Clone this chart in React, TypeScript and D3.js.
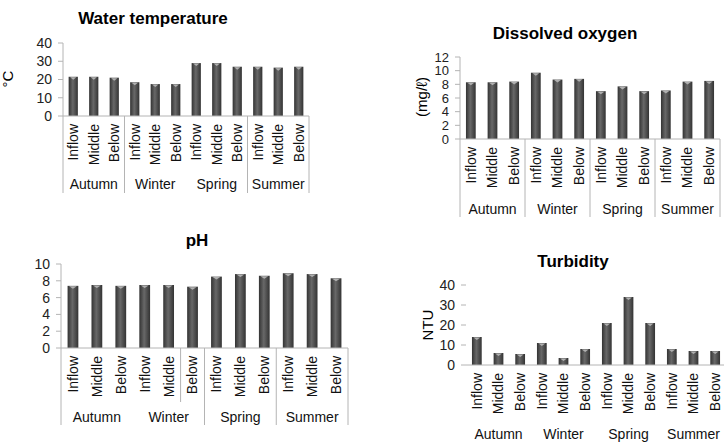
import React, { useEffect, useRef } from 'react';
import * as d3 from 'd3';

// Sampling points and seasons along the x axis
const sites = ['Inflow', 'Middle', 'Below'];
const seasons = ['Autumn', 'Winter', 'Spring', 'Summer'];

// Measured values, ordered season by season (Inflow, Middle, Below)
const waterTemp = [21.5, 21.5, 21, 18.5, 17.5, 17.5, 29, 29, 27, 27, 26.5, 27];
const dissolvedOxygen = [8.3, 8.3, 8.4, 9.7, 8.7, 8.8, 7.0, 7.7, 7.0, 7.1, 8.4, 8.5];
const phValues = [7.4, 7.5, 7.4, 7.5, 7.5, 7.3, 8.5, 8.8, 8.6, 8.9, 8.8, 8.3];
const turbidity = [14, 6, 5.5, 11, 3.5, 8, 21, 34, 21, 8, 7, 7];

// Y tick labels per panel
const tempTicks = [0, 10, 20, 30, 40];
const oxygenTicks = [0, 2, 4, 6, 8, 10, 12];
const phTicks = [0, 2, 4, 6, 8, 10];
const turbidityTicks = [0, 10, 20, 30, 40];

const AXIS = '#b4b4b4';
const FONT = '"Liberation Sans", Arial, sans-serif';

const categories = seasons.flatMap((s) => sites.map((p) => `${s}-${p}`));

const panels = [
  {
    id: 'temp', title: 'Water temperature', titleX: 153, titleY: 24,
    unit: '°C', unitX: 8, unitY: 79,
    values: waterTemp, ticks: tempTicks, tickSize: 14,
    left: 63, right: 309, top: 43, base: 116, bottom: 193, groupY: 189,
    yAxis: true, separators: [[0, 193], [3, 193], [9, 193], [12, 193]],
  },
  {
    id: 'oxygen', title: 'Dissolved oxygen', titleX: 565, titleY: 39,
    unit: '(mg/ℓ)', unitX: 422, unitY: 97,
    values: dissolvedOxygen, ticks: oxygenTicks, tickSize: 13,
    left: 460, right: 720, top: 57, base: 139, bottom: 217, groupY: 214,
    yAxis: true, separators: [[0, 217], [3, 217], [6, 217], [9, 217], [12, 217]],
  },
  {
    id: 'ph', title: 'pH', titleX: 197, titleY: 246,
    unit: '', unitX: 0, unitY: 0,
    values: phValues, ticks: phTicks, tickSize: 14,
    left: 61, right: 348, top: 264, base: 348, bottom: 425, groupY: 422,
    yAxis: true, separators: [[0, 425], [5, 402], [6, 425], [9, 425], [12, 425]],
  },
  {
    id: 'turb', title: 'Turbidity', titleX: 573, titleY: 267,
    unit: 'NTU', unitX: 428, unitY: 325,
    values: turbidity, ticks: turbidityTicks, tickSize: 14,
    left: 466, right: 726, top: 285, base: 365, bottom: 365, groupY: 439,
    yAxis: false, separators: [],
  },
];

const App = () => {
  const ref = useRef<SVGSVGElement>(null);

  useEffect(() => {
    const svg = d3.select(ref.current);
    svg.selectAll('*').remove();

    // Cylinder-like shading for the bars
    const grad = svg.append('defs').append('linearGradient')
      .attr('id', 'barFill').attr('x1', '0%').attr('x2', '100%').attr('y1', '0%').attr('y2', '0%');
    grad.append('stop').attr('offset', '0%').attr('stop-color', '#333');
    grad.append('stop').attr('offset', '45%').attr('stop-color', '#686868');
    grad.append('stop').attr('offset', '100%').attr('stop-color', '#333');

    panels.forEach((p) => {
      const g = svg.append('g').attr('font-family', FONT);

      const x = d3.scaleBand<string>()
        .domain(categories)
        .range([p.left, p.right])
        .paddingInner(0.55)
        .paddingOuter(0.275);
      const edge = (i: number) => p.left + (p.right - p.left) * (i / categories.length);

      const y = d3.scaleLinear()
        .domain([0, d3.max(p.ticks) as number])
        .range([p.base, p.top]);

      // Title
      g.append('text')
        .attr('x', p.titleX).attr('y', p.titleY)
        .attr('text-anchor', 'middle')
        .attr('font-size', 17).attr('font-weight', 'bold')
        .text(p.title);

      // Unit label
      if (p.unit) {
        g.append('text')
          .attr('transform', `translate(${p.unitX},${p.unitY}) rotate(-90)`)
          .attr('text-anchor', 'middle').attr('dy', '0.35em')
          .attr('font-size', 15)
          .text(p.unit);
      }

      // Y axis: tick marks and labels
      if (p.yAxis) {
        g.append('line')
          .attr('x1', p.left).attr('x2', p.left)
          .attr('y1', p.top).attr('y2', p.base)
          .attr('stroke', AXIS);
      }
      g.selectAll('.ytick')
        .data(p.ticks)
        .join('line')
        .attr('x1', p.left - 5).attr('x2', p.left)
        .attr('y1', (d) => y(d)).attr('y2', (d) => y(d))
        .attr('stroke', AXIS);
      g.selectAll('.ylab')
        .data(p.ticks)
        .join('text')
        .attr('x', p.left - 11).attr('y', (d) => y(d))
        .attr('dy', '0.35em').attr('text-anchor', 'end')
        .attr('font-size', p.tickSize).attr('fill', '#222')
        .text((d) => d);

      // Bars with a light cap on top
      const bars = g.selectAll('.bar')
        .data(p.values)
        .join('g');
      bars.append('rect')
        .attr('x', (_, i) => x(categories[i]) as number)
        .attr('y', (d) => y(d))
        .attr('width', x.bandwidth())
        .attr('height', (d) => p.base - y(d))
        .attr('fill', 'url(#barFill)');
      bars.append('path')
        .attr('d', (d, i) => {
          const x0 = x(categories[i]) as number;
          const w = x.bandwidth();
          const t = y(d);
          return `M${x0 + 1.5},${t + 0.5} L${x0 + w - 1.5},${t + 0.5} L${x0 + w / 2},${t + 3} Z`;
        })
        .attr('fill', '#b0b0b0');

      // X baseline
      g.append('line')
        .attr('x1', p.left).attr('x2', p.right)
        .attr('y1', p.base).attr('y2', p.base)
        .attr('stroke', AXIS);

      // Group separators
      p.separators.forEach(([i, y2]) => {
        g.append('line')
          .attr('x1', edge(i)).attr('x2', edge(i))
          .attr('y1', p.base).attr('y2', y2)
          .attr('stroke', AXIS);
      });

      // Site labels, rotated
      g.selectAll('.site')
        .data(categories)
        .join('text')
        .attr('transform', (d) => `translate(${(x(d) as number) + x.bandwidth() / 2},${p.base + 8}) rotate(-90)`)
        .attr('dy', '0.35em').attr('text-anchor', 'end')
        .attr('font-size', 14).attr('fill', '#111')
        .text((_, i) => sites[i % 3]);

      // Season labels
      g.selectAll('.season')
        .data(seasons)
        .join('text')
        .attr('x', (_, i) => (edge(i * 3) + edge(i * 3 + 3)) / 2)
        .attr('y', p.groupY)
        .attr('text-anchor', 'middle')
        .attr('font-size', 14).attr('fill', '#111')
        .text((d) => d);
    });
  }, []);

  return (
    <div style={{ position: 'absolute', left: 0, top: 0 }}>
      <svg ref={ref} width={724} height={444} style={{ display: 'block', background: '#fff' }} />
    </div>
  );
};

export default App;
